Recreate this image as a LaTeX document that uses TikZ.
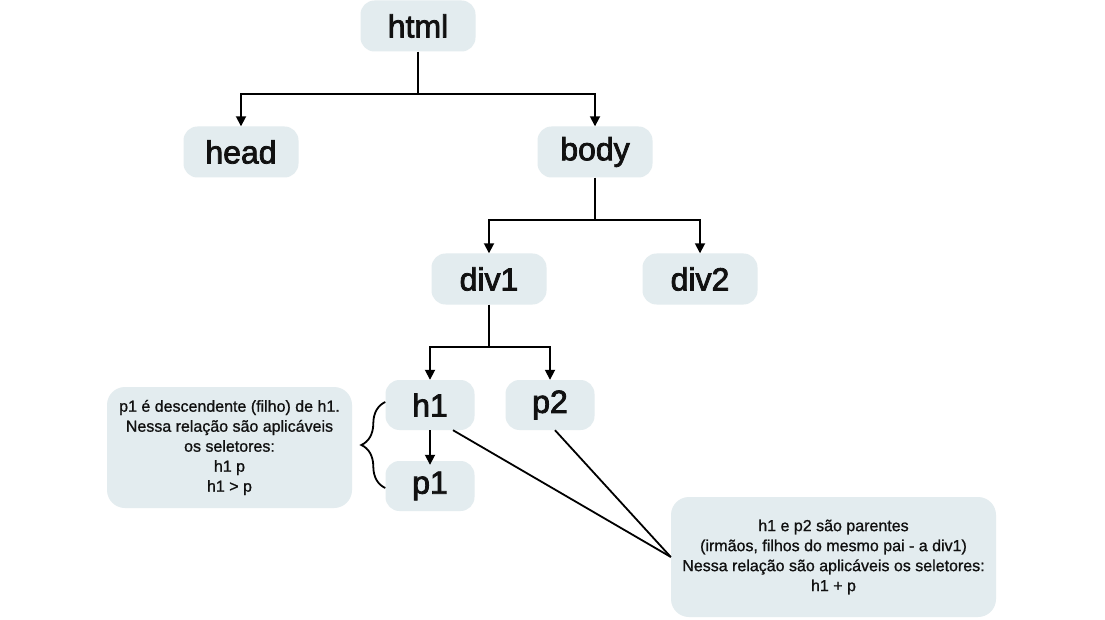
\documentclass[tikz,border=0pt]{standalone}
\usepackage{fontspec}
\setmainfont{Liberation Sans}
\newfontfamily\tagfont[FakeBold=2.5]{Liberation Sans}
\newfontfamily\notefont[FakeBold=1]{Liberation Sans}
\usetikzlibrary{arrows.meta,decorations.pathreplacing,calc}
\definecolor{boxfill}{HTML}{E3ECEF}
\definecolor{ink}{HTML}{111111}
\begin{document}
\begin{tikzpicture}[x=1pt,y=-1pt,
  tag/.style={fill=boxfill, text=ink, rounded corners=14pt, minimum width=115pt, minimum height=51pt, inner sep=0pt, font=\tagfont\fontsize{32}{38}\selectfont},
  tagsm/.style={tag, minimum width=89pt, minimum height=50pt},
  note/.style={fill=boxfill, text=ink, rounded corners=18pt, inner sep=0pt, align=center, font=\notefont\fontsize{16}{20}\selectfont},
  link/.style={line width=1.8pt},
  arr/.style={link, -{Triangle[length=10pt,width=10pt]}}]
\useasboundingbox (0,0) rectangle (1105,620);
\fill[white] (0,0) rectangle (1105,620);
% nodes
\node[tag] (html) at (418,26) {html};
\node[tag] (head) at (241,152) {head};
\node[tag] (body) at (595,152) {body};
\node[tag] (div1) at (489,279) {div1};
\node[tag] (div2) at (700,279) {div2};
\node[tagsm] (h1) at (430,405) {h1};
\node[tagsm] (p2) at (550,405) {p2};
\node[tagsm] (p1) at (430,486) {p1};
\node[note, minimum width=245pt, minimum height=121pt] (ln) at (229.5,447.5)
  {p1 é descendente (filho) de h1.\\Nessa relação são aplicáveis\\os seletores:\\h1 p\\h1 > p};
\node[note, minimum width=325pt, minimum height=120pt] (rn) at (833.5,557)
  {h1 e p2 são parentes\\(irmãos, filhos do mesmo pai - a div1)\\Nessa relação são aplicáveis os seletores:\\h1 + p};
% junctions
\coordinate (j1) at (418,94);
\coordinate (j2) at (595,220);
\coordinate (j3) at (489,347);
% connectors
\draw[link] (html.south) -- (j1);
\draw[arr] (j1) -| (head.north);
\draw[arr] (j1) -| (body.north);
\draw[link] (body.south) -- (j2);
\draw[arr] (j2) -| (div1.north);
\draw[arr] (j2) -| (div2.north);
\draw[link] (div1.south) -- (j3);
\draw[arr] (j3) -| (h1.north);
\draw[arr] (j3) -| (p2.north);
\draw[arr] (h1.south) -- ([yshift=-4pt]p1.north);
\draw[link, decorate, decoration={brace, amplitude=24pt}] ([yshift=-2pt]p1.west) -- ([yshift=3pt]h1.west);
\draw[link] ([xshift=23pt]h1.south) -- (rn.west);
\draw[link] ([xshift=5pt]p2.south) -- (rn.west);
\end{tikzpicture}
\end{document}
